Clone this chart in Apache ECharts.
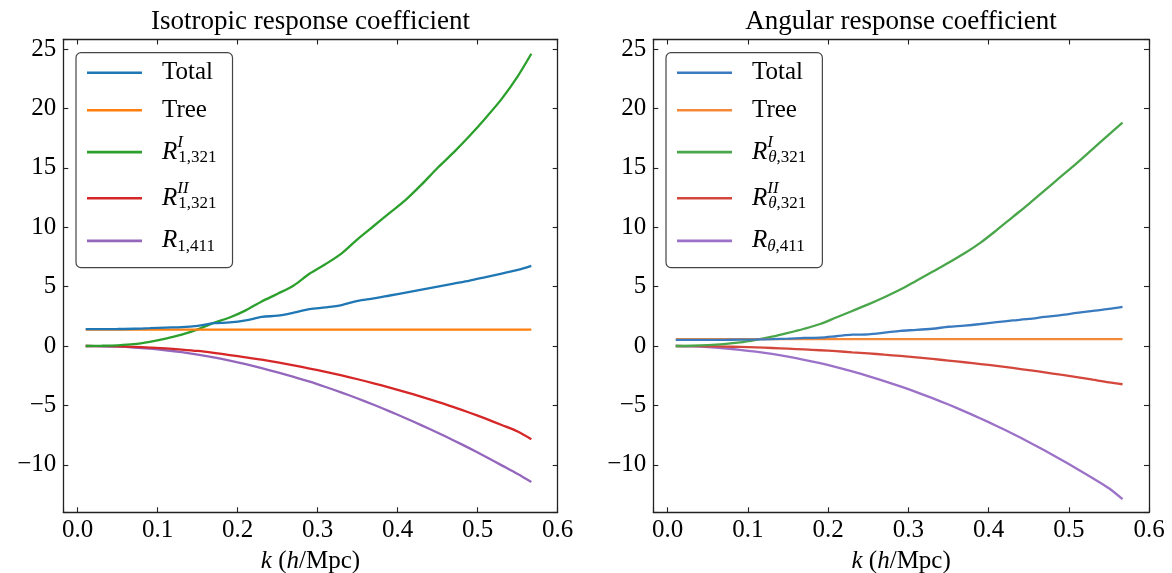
<!DOCTYPE html>
<html>
<head>
<meta charset="utf-8">
<script src="https://cdn.jsdelivr.net/npm/echarts@6/dist/echarts.min.js"></script>
<style>
html,body{margin:0;padding:0;background:#fff;}
#c{width:1172px;height:573px;}
</style>
</head>
<body>
<div id="c"></div>
<script>
// ---------- data ----------
const k = [0.01,0.03,0.05,0.07,0.09,0.11,0.13,0.15,0.17,0.19,0.21,0.23,0.25,0.27,0.29,0.31,0.33,0.35,0.37,0.39,0.41,0.43,0.45,0.47,0.49,0.51,0.53,0.55,0.567];

// Isotropic response coefficient (left)
const isoTotal = [1.42,1.42,1.43,1.45,1.5,1.55,1.58,1.7,1.92,1.98,2.15,2.45,2.55,2.8,3.1,3.25,3.45,3.8,4.0,4.25,4.5,4.75,5.0,5.25,5.5,5.8,6.1,6.4,6.75];
const isoTree  = [1.38,1.38,1.38,1.38,1.38,1.38,1.38,1.38,1.38,1.38,1.38,1.38,1.38,1.38,1.38,1.38,1.38,1.38,1.38,1.38,1.38,1.38,1.38,1.38,1.38,1.38,1.38,1.38,1.38];
const isoR321I = [0,0.02,0.06,0.15,0.35,0.62,0.95,1.4,1.95,2.4,3.0,3.75,4.4,5.1,6.1,6.9,7.8,9.0,10.1,11.2,12.3,13.6,15.0,16.3,17.7,19.2,20.8,22.7,24.6];
const isoR321II= [0,-0.01,-0.03,-0.07,-0.13,-0.2,-0.3,-0.42,-0.58,-0.76,-0.95,-1.15,-1.38,-1.63,-1.9,-2.18,-2.48,-2.8,-3.14,-3.5,-3.88,-4.28,-4.7,-5.15,-5.62,-6.12,-6.65,-7.2,-7.85];
const isoR411  = [0,-0.02,-0.06,-0.13,-0.23,-0.36,-0.52,-0.72,-0.96,-1.23,-1.53,-1.86,-2.22,-2.6,-3.0,-3.45,-3.92,-4.42,-4.95,-5.5,-6.08,-6.68,-7.3,-7.95,-8.62,-9.32,-10.05,-10.78,-11.45];

// Angular response coefficient (right)
const angTotal = [0.52,0.52,0.52,0.52,0.53,0.55,0.58,0.62,0.68,0.7,0.82,0.95,0.98,1.12,1.28,1.35,1.45,1.62,1.72,1.85,2.0,2.15,2.28,2.45,2.6,2.78,2.95,3.12,3.3];
const angTree  = [0.57,0.57,0.57,0.57,0.57,0.57,0.57,0.57,0.57,0.57,0.57,0.57,0.57,0.57,0.57,0.57,0.57,0.57,0.57,0.57,0.57,0.57,0.57,0.57,0.57,0.57,0.57,0.57,0.57];
const angR321I = [0,0.02,0.07,0.16,0.3,0.52,0.78,1.1,1.45,1.85,2.4,2.95,3.5,4.1,4.75,5.5,6.25,7.0,7.8,8.7,9.75,10.85,11.95,13.1,14.25,15.4,16.6,17.8,18.8];
const angR321II= [0,-0.01,-0.03,-0.05,-0.08,-0.12,-0.17,-0.23,-0.29,-0.36,-0.44,-0.53,-0.62,-0.73,-0.84,-0.96,-1.09,-1.23,-1.37,-1.52,-1.68,-1.85,-2.03,-2.22,-2.42,-2.62,-2.84,-3.06,-3.22];
const angR411  = [0,-0.03,-0.09,-0.19,-0.32,-0.48,-0.67,-0.9,-1.16,-1.45,-1.78,-2.14,-2.53,-2.95,-3.4,-3.88,-4.39,-4.93,-5.5,-6.1,-6.73,-7.39,-8.08,-8.8,-9.55,-10.33,-11.14,-11.98,-12.9];

const titles = ['Isotropic response coefficient', 'Angular response coefficient'];
const isoNames = ['iso_total','iso_tree','iso_r321i','iso_r321ii','iso_r411'];
const angNames = ['ang_total','ang_tree','ang_r321i','ang_r321ii','ang_r411'];
const legendLabels = {
  iso_total: '{sp|}Total',
  iso_tree: '{sp|}Tree',
  iso_r321i: '{sp|}{R|R}{sup|I}{sub|1,321}',
  iso_r321ii: '{sp|}{R|R}{sup|II}{sub|1,321}',
  iso_r411: '{sp|}{R3|R}{sub|1,411}',
  ang_total: '{sp|}Total',
  ang_tree: '{sp|}Tree',
  ang_r321i: '{sp|}{R|R}{sup|I}{subi|θ}{sub|,321}',
  ang_r321ii: '{sp|}{R|R}{sup|II}{subi|θ}{sub|,321}',
  ang_r411: '{sp|}{R3|R}{subi|θ}{sub|,411}'
};
const isoColors = ['#1f77b4','#ff7f0e','#2ca02c','#d62728','#9467bd'];
const angColors = ['#3a7bbf','#f5893a','#4aa64a','#d4473c','#9c72c8'];

// ---------- chart ----------
const FONT = 'Liberation Serif';
const chart = echarts.init(document.getElementById('c'), null, {renderer:'canvas'});

const isoData = [isoTotal, isoTree, isoR321I, isoR321II, isoR411];
const angData = [angTotal, angTree, angR321I, angR321II, angR411];
const pair = arr => arr.map((v,i)=>[k[i], v]);

const grids = [
  {left:63.3, top:39.5, width:494.4, height:472.8, containLabel:false, outerBoundsMode:'none'},
  {left:653.3, top:39.5, width:495.7, height:472.8, containLabel:false, outerBoundsMode:'none'}
];
const XMIN=-0.018, XMAX=0.6, YMIN=-14.0, YMAX=25.8;
const lineCol = '#222';

function fmtX(v){
  const r = Math.round(v*10);
  if (Math.abs(v*10 - r) > 1e-6) return '';
  return (r/10).toFixed(1);
}
function fmtY(v){
  const r = Math.round(v);
  if (Math.abs(v - r) > 1e-6 || r % 5 !== 0) return '';
  return r < 0 ? '\u2212' + Math.abs(r) : String(r);
}

const xAxes = [], yAxes = [];
[0,1].forEach(g=>{
  xAxes.push({
    type:'value', gridIndex:g, min:XMIN, max:XMAX, splitNumber:6, position:'bottom',
    axisLine:{show:true, onZero:false, lineStyle:{color:lineCol, width:1.3}},
    axisTick:{show:true, inside:true, length:5, lineStyle:{color:lineCol, width:1.1}},
    splitLine:{show:false},
    axisLabel:{show:true, formatter:fmtX, margin:6, color:'#000', fontFamily:FONT, fontSize:25},
    name:'{i|k} ({i|h}/Mpc)', nameLocation:'middle', nameGap:37,
    nameTextStyle:{color:'#000', fontFamily:FONT, fontSize:25,
      rich:{i:{fontStyle:'italic', fontFamily:FONT, fontSize:25, color:'#000'}}}
  });
  xAxes.push({
    type:'value', gridIndex:g, min:XMIN, max:XMAX, splitNumber:6, position:'top',
    axisLine:{show:true, onZero:false, lineStyle:{color:lineCol, width:1.3}},
    axisTick:{show:true, inside:true, length:5, lineStyle:{color:lineCol, width:1.1}},
    splitLine:{show:false}, axisLabel:{show:false}
  });
  yAxes.push({
    type:'value', gridIndex:g, min:YMIN, max:YMAX, splitNumber:8, position:'left',
    axisLine:{show:true, onZero:false, lineStyle:{color:lineCol, width:1.3}},
    axisTick:{show:true, inside:true, length:5, lineStyle:{color:lineCol, width:1.1}},
    splitLine:{show:false},
    axisLabel:{show:true, formatter:fmtY, margin:7, color:'#000', fontFamily:FONT, fontSize:25}
  });
  yAxes.push({
    type:'value', gridIndex:g, min:YMIN, max:YMAX, splitNumber:8, position:'right',
    axisLine:{show:true, onZero:false, lineStyle:{color:lineCol, width:1.3}},
    axisTick:{show:true, inside:true, length:5, lineStyle:{color:lineCol, width:1.1}},
    splitLine:{show:false}, axisLabel:{show:false}
  });
});

const series = [];
isoNames.forEach((n,i)=>{
  series.push({name:n, type:'line', xAxisIndex:0, yAxisIndex:0, data:pair(isoData[i]),
    symbol:'none', smooth:0.3, z: 10-i,
    lineStyle:{width:2.3, color:isoColors[i]}, itemStyle:{color:isoColors[i]}});
});
angNames.forEach((n,i)=>{
  series.push({name:n, type:'line', xAxisIndex:2, yAxisIndex:2, data:pair(angData[i]),
    symbol:'none', smooth:0.3, z: 10-i,
    lineStyle:{width:2.3, color:angColors[i]}, itemStyle:{color:angColors[i]}});
});

const rich = {
  sp:{width:15},
  R:{fontStyle:'italic', fontFamily:FONT, fontSize:25, color:'#000', lineHeight:33},
  R3:{fontStyle:'italic', fontFamily:FONT, fontSize:25, color:'#000', lineHeight:30},
  sup:{fontStyle:'italic', fontFamily:FONT, fontSize:17, color:'#000', width:1, align:'left', padding:[0,0,20,0], lineHeight:10},
  sub:{fontFamily:FONT, fontSize:17, color:'#000', padding:[11,0,0,0], lineHeight:10},
  subi:{fontStyle:'italic', fontFamily:FONT, fontSize:17, color:'#000', padding:[11,0,0,0], lineHeight:10}
};
function mkLegend(names, left){
  return {
    data:names, orient:'vertical', left:left, top:52.7,
    icon:'rect', itemWidth:55, itemHeight:2.6, itemGap:9.1,
    padding:[5.75,16,11.7,11],
    borderColor:'#444', borderWidth:1.2, borderRadius:5, backgroundColor:'#fff',
    selectedMode:false,
    formatter: n => legendLabels[n],
    textStyle:{fontFamily:FONT, fontSize:25, color:'#000', lineHeight:28.5, rich:rich}
  };
}

chart.setOption({
  animation:false,
  backgroundColor:'#fff',
  title: [
    {text:titles[0], left:310.5, top:8, textAlign:'center', padding:0,
     textStyle:{fontFamily:FONT, fontSize:27, fontWeight:'normal', color:'#000'}},
    {text:titles[1], left:901, top:8, textAlign:'center', padding:0,
     textStyle:{fontFamily:FONT, fontSize:27, fontWeight:'normal', color:'#000'}}
  ],
  grid: grids,
  xAxis: xAxes,
  yAxis: yAxes,
  legend: [mkLegend(isoNames, 76), mkLegend(angNames, 666)],
  series: series
});
</script>
</body>
</html>
